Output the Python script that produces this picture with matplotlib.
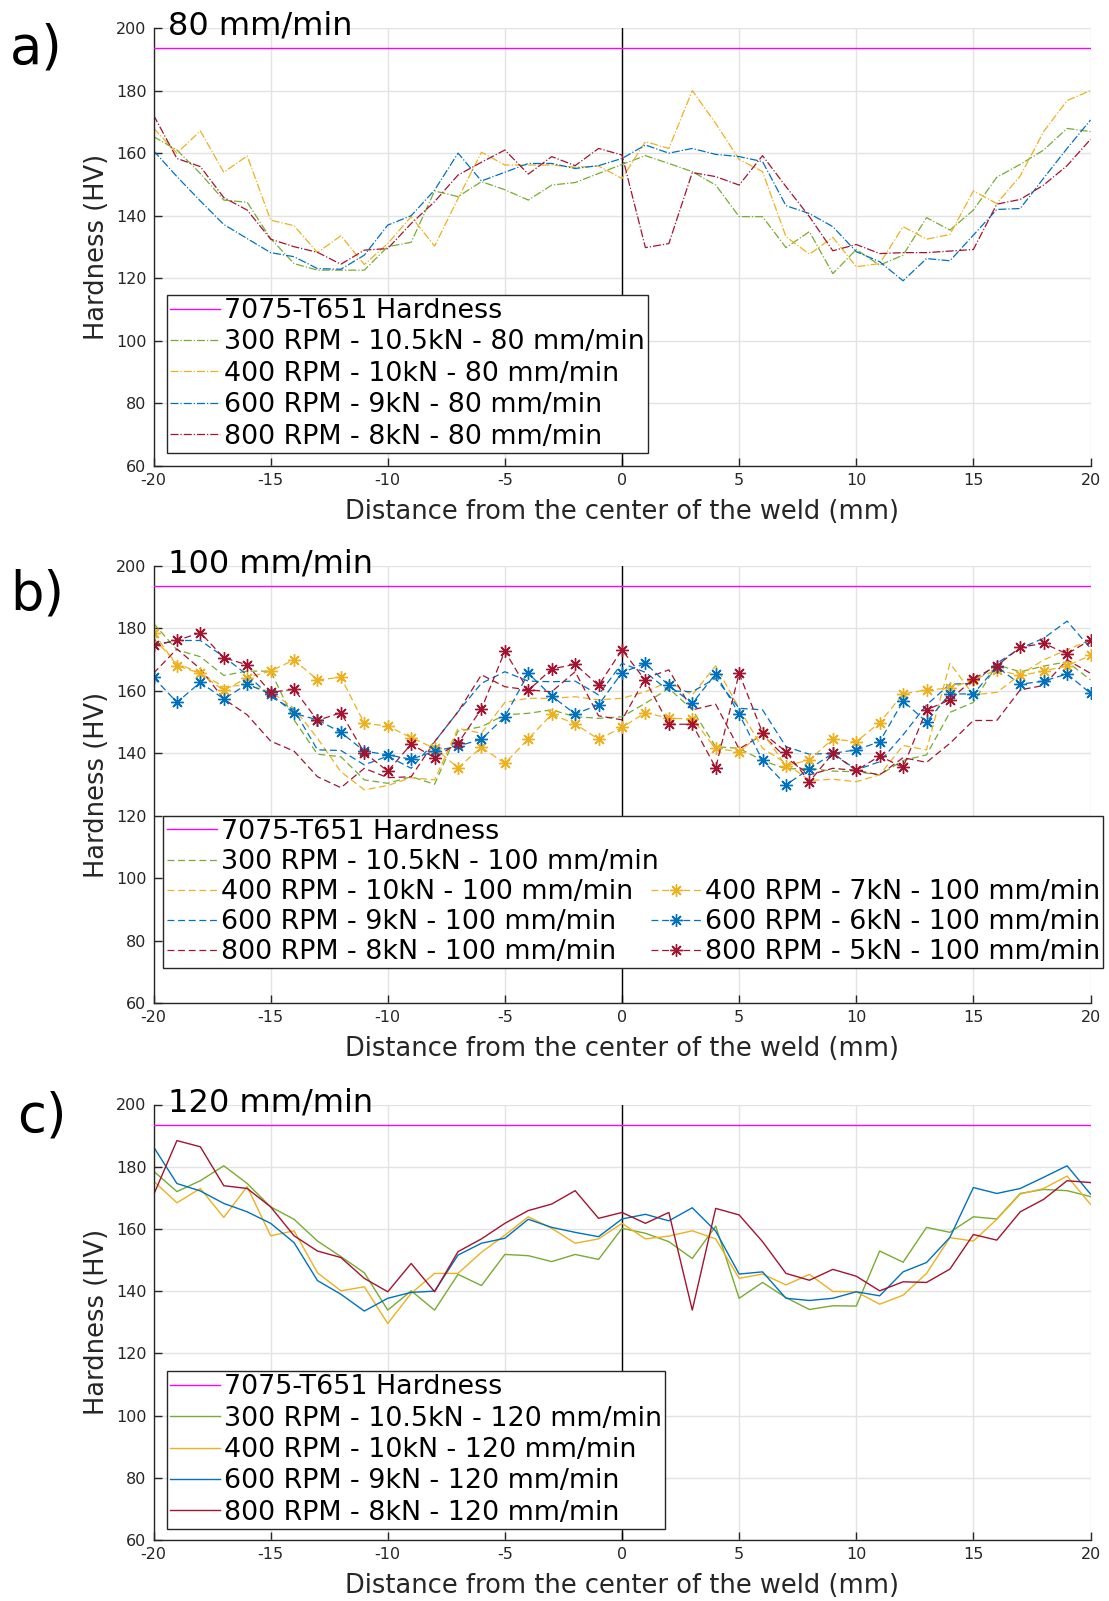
import matplotlib.pyplot as plt
from matplotlib.lines import Line2D

plt.rcParams['axes.unicode_minus'] = False

# distance from weld centre (mm)
distance = list(range(-20, 21))
base_hardness = 193.5  # 7075-T651

# --- 80 mm/min ---
hv_300_a = [165.3, 161.0, 153.5, 145.0, 144.3, 132.7, 124.7, 122.6, 122.6, 122.6, 130.1, 131.5, 147.9, 146.1,
            150.9, 148.3, 145.0, 149.8, 150.6, 153.5, 156.4,
            159.2, 156.7, 154.1, 149.8, 139.7, 139.7, 129.8, 134.9, 121.5, 129.2, 124.2, 127.4, 139.4, 135.4,
            141.8, 152.3, 156.4, 161.0, 167.9, 166.9]
hv_400_a = [168.0, 160.0, 167.1, 153.9, 159.1, 138.6, 136.8, 128.2, 133.6, 124.4, 131.1, 139.7, 130.3, 145.5,
            160.3, 156.2, 156.2, 156.2, 155.5, 155.9, 151.9,
            163.7, 161.5, 180.0, 169.5, 158.0, 154.1, 133.3, 127.7, 133.1, 123.7, 124.7, 136.5, 132.5, 134.0,
            147.9, 143.9, 152.7, 166.9, 176.8, 180.0]
hv_600_a = [160.8, 152.5, 144.7, 137.2, 132.7, 128.2, 126.9, 123.1, 122.9, 127.4, 137.0, 140.0, 148.2, 160.0,
            151.1, 153.9, 156.7, 156.7, 155.1, 156.0, 158.3,
            162.6, 160.0, 161.5, 159.6, 158.9, 157.3, 143.2, 140.7, 136.5, 128.5, 125.3, 119.2, 126.3, 125.6,
            133.8, 142.0, 142.3, 152.0, 161.5, 170.6]
hv_800_a = [172.2, 158.3, 155.7, 145.8, 141.8, 132.5, 130.1, 128.3, 124.5, 129.0, 129.5, 137.5, 144.5, 153.0,
            157.1, 161.0, 153.3, 158.9, 156.0, 161.5, 159.4,
            129.8, 131.1, 153.8, 152.5, 149.8, 159.2, 149.3, 139.7, 128.8, 130.8, 127.9, 128.2, 128.2, 128.7,
            129.2, 143.7, 145.2, 149.8, 156.0, 164.4]

# --- 100 mm/min ---
hv_300_b = [181.6, 173.1, 170.9, 164.9, 166.3, 166.3, 150.7, 139.7, 138.9, 131.5, 130.4, 132.5, 130.1, 147.1,
            148.5, 152.3, 152.8, 153.9, 151.7, 151.2, 151.7,
            156.0, 160.8, 153.9, 142.1, 141.6, 137.7, 135.0, 135.2, 134.3, 134.1, 133.1, 137.7, 139.5, 153.1,
            156.3, 168.3, 166.1, 167.9, 169.3, 163.5]
hv_400_b = [176.8, 168.8, 165.6, 161.3, 161.9, 159.7, 154.4, 144.8, 134.1, 128.3, 129.7, 132.2, 131.5, 148.0,
            146.4, 156.3, 157.6, 157.6, 158.1, 157.1, 157.6,
            159.7, 162.9, 158.7, 168.0, 154.4, 141.6, 136.8, 131.3, 131.7, 130.9, 133.1, 142.5, 141.1, 168.8,
            158.7, 159.5, 165.1, 169.9, 173.1, 176.3]
hv_600_b = [174.7, 176.1, 176.1, 170.9, 165.1, 158.1, 153.9, 141.1, 140.9, 136.3, 139.1, 135.2, 143.7, 153.3,
            162.4, 166.1, 163.1, 162.9, 163.1, 158.7, 168.8,
            165.9, 160.0, 159.7, 164.0, 154.4, 153.9, 142.1, 139.7, 140.0, 134.7, 137.3, 145.9, 155.5, 162.1,
            162.4, 168.8, 173.6, 176.8, 182.3, 173.6]
hv_800_b = [165.6, 173.4, 167.0, 157.4, 152.3, 143.9, 140.7, 132.5, 129.0, 135.2, 132.2, 132.5, 143.7, 153.3,
            165.1, 161.3, 160.3, 159.7, 166.1, 152.0, 150.7,
            164.0, 166.7, 153.9, 155.7, 141.4, 145.9, 138.6, 133.1, 135.2, 134.5, 133.1, 138.6, 137.1, 143.2,
            150.5, 150.5, 160.3, 161.7, 169.9, 165.6]
hv_400_7kn_b = [178.6, 168.0, 165.6, 160.1, 164.2, 166.3, 169.9, 163.5, 164.3, 149.6, 148.7, 145.0, 141.6, 135.4,
                141.9, 136.8, 144.6, 152.5, 149.4, 144.5, 148.3,
                153.0, 151.2, 151.0, 141.6, 140.5, 146.6, 136.0, 137.9, 144.6, 143.7, 149.8, 159.0, 160.3, 160.8,
                163.5, 166.7, 164.9, 166.3, 168.0, 171.3]
hv_600_6kn_b = [164.3, 156.3, 162.7, 157.4, 162.1, 159.0, 152.8, 150.7, 146.7, 140.7, 139.5, 138.1, 140.7, 142.3,
                144.5, 151.7, 165.6, 158.3, 152.6, 155.5, 165.8,
                168.8, 161.7, 156.0, 165.4, 152.6, 137.7, 129.9, 135.0, 140.0, 141.1, 143.7, 156.7, 150.1, 159.0,
                159.0, 167.7, 162.1, 163.1, 165.4, 159.2]
hv_800_5kn_b = [174.5, 176.1, 178.6, 170.6, 168.3, 159.5, 160.5, 150.5, 153.0, 140.2, 134.3, 142.9, 138.6, 143.2,
                154.2, 172.7, 160.1, 167.0, 168.5, 161.7, 173.1,
                163.3, 149.3, 149.3, 135.4, 165.6, 146.6, 140.5, 130.9, 140.0, 134.5, 139.1, 135.5, 153.9, 157.1,
                163.8, 168.0, 173.9, 175.2, 171.8, 176.3]

# --- 120 mm/min ---
hv_300_c = [178.6, 172.0, 175.5, 180.3, 174.6, 167.1, 163.1, 156.1, 151.1, 145.9, 133.9, 140.1, 133.9, 145.4,
            141.8, 151.8, 151.4, 149.5, 151.8, 150.2, 160.2,
            158.6, 155.9, 150.5, 160.9, 137.7, 142.8, 137.9, 134.1, 135.3, 135.2, 152.9, 149.3, 160.5, 158.9,
            163.9, 163.2, 171.4, 172.7, 172.3, 170.4]
hv_400_c = [175.4, 168.4, 173.0, 163.7, 173.6, 157.8, 159.4, 145.9, 140.1, 141.4, 129.6, 139.3, 145.7, 145.7,
            152.5, 158.0, 163.9, 160.2, 155.4, 156.8, 161.8,
            156.8, 157.7, 159.4, 156.8, 144.1, 145.5, 142.0, 145.4, 139.9, 139.8, 135.8, 138.7, 145.7, 157.2,
            156.1, 163.1, 171.2, 173.0, 177.0, 167.9]
hv_600_c = [186.4, 174.6, 172.2, 168.2, 165.5, 161.8, 155.6, 143.4, 139.0, 133.6, 137.7, 139.6, 140.0, 151.6,
            155.4, 157.0, 163.1, 160.5, 158.9, 157.5, 163.2,
            164.7, 162.6, 166.8, 159.3, 145.5, 146.2, 137.7, 137.0, 137.7, 139.8, 138.5, 146.2, 149.2, 157.3,
            173.3, 171.4, 173.0, 176.6, 180.3, 171.2]
hv_800_c = [170.9, 188.4, 186.4, 173.9, 173.0, 167.1, 157.8, 152.9, 150.8, 144.1, 139.8, 148.9, 139.8, 152.7,
            156.8, 161.8, 165.9, 168.0, 172.3, 163.4, 165.3,
            161.8, 165.3, 133.9, 166.6, 164.5, 155.9, 145.7, 143.5, 147.0, 144.8, 140.1, 143.0, 142.8, 147.1,
            158.2, 156.4, 165.5, 169.5, 175.5, 174.9]

GREEN, YELLOW, BLUE, RED = '#77AC30', '#EDB120', '#0072BD', '#A2142F'
MAGENTA = '#FF00FF'
TXT = '#262626'

fig = plt.figure(figsize=(11.09, 16.01), dpi=100)
left, width = 153.5 / 1109, 937 / 1109
ax_a = fig.add_axes([left, 1 - 466 / 1601, width, 438 / 1601])
ax_b = fig.add_axes([left, 1 - 1003.3 / 1601, width, 437.5 / 1601])
ax_c = fig.add_axes([left, 1 - 1540 / 1601, width, 435.5 / 1601])


def style_axes(ax, title):
    ax.set_xlim(-20, 20)
    ax.set_ylim(60, 200)
    ax.set_xticks(range(-20, 21, 5))
    ax.set_yticks(range(60, 201, 20))
    ax.grid(True, color='#e3e3e3', linewidth=1.0)
    ax.set_axisbelow(True)
    for s in ['top', 'right']:
        ax.spines[s].set_visible(False)
    for s in ['left', 'bottom']:
        ax.spines[s].set_color(TXT)
        ax.spines[s].set_linewidth(1.0)
    ax.tick_params(direction='in', length=6, width=1.0, colors=TXT, labelsize=11.5, pad=5)
    ax.axhline(base_hardness, color=MAGENTA, lw=1.0, label='7075-T651 Hardness', zorder=3)
    ax.axvline(0, color='black', lw=1.0, zorder=2)
    ax.set_ylabel('Hardness (HV)', fontsize=18.5, color=TXT, labelpad=4)
    ax.set_xlabel('Distance from the center of the weld (mm)', fontsize=18.5, color=TXT, labelpad=8)
    ax.text(0.016, 0.985, title, transform=ax.transAxes, fontsize=23, color='black',
            va='baseline', ha='left')


legend_kw = dict(loc='lower left', fontsize=19.4, frameon=True, fancybox=False, framealpha=1,
                 edgecolor=TXT, borderaxespad=0, borderpad=0.12, labelspacing=0.2,
                 handlelength=1.85, handletextpad=0.15)

# a) 80 mm/min
style_axes(ax_a, '80 mm/min')
ax_a.plot(distance, hv_300_a, '-.', color=GREEN, lw=0.9, label='300 RPM - 10.5kN - 80 mm/min')
ax_a.plot(distance, hv_400_a, '-.', color=YELLOW, lw=0.9, label='400 RPM - 10kN - 80 mm/min')
ax_a.plot(distance, hv_600_a, '-.', color=BLUE, lw=0.9, label='600 RPM - 9kN - 80 mm/min')
ax_a.plot(distance, hv_800_a, '-.', color=RED, lw=0.9, label='800 RPM - 8kN - 80 mm/min')
leg = ax_a.legend(bbox_to_anchor=(0.0139, 0.030), **legend_kw)
leg.get_frame().set_linewidth(1.0)
leg.set_zorder(5)

# b) 100 mm/min
style_axes(ax_b, '100 mm/min')
dash = (0, (5.5, 3))
star = (8, 2, 0)
l1 = ax_b.plot(distance, hv_300_b, linestyle=dash, color=GREEN, lw=0.9)[0]
l2 = ax_b.plot(distance, hv_400_b, linestyle=dash, color=YELLOW, lw=0.9)[0]
l3 = ax_b.plot(distance, hv_600_b, linestyle=dash, color=BLUE, lw=0.9)[0]
l4 = ax_b.plot(distance, hv_800_b, linestyle=dash, color=RED, lw=0.9)[0]
m1 = ax_b.plot(distance, hv_400_7kn_b, linestyle=dash, color=YELLOW, lw=0.9, marker=star, ms=9, mew=1.0)[0]
m2 = ax_b.plot(distance, hv_600_6kn_b, linestyle=dash, color=BLUE, lw=0.9, marker=star, ms=9, mew=1.0)[0]
m3 = ax_b.plot(distance, hv_800_5kn_b, linestyle=dash, color=RED, lw=0.9, marker=star, ms=9, mew=1.0)[0]
hard_b = ax_b.get_lines()[0]
blank = Line2D([], [], linestyle='none')
handles = [hard_b, l1, l2, l3, l4, blank, blank, m1, m2, m3]
labels = ['7075-T651 Hardness', '300 RPM - 10.5kN - 100 mm/min', '400 RPM - 10kN - 100 mm/min',
          '600 RPM - 9kN - 100 mm/min', '800 RPM - 8kN - 100 mm/min', ' ', ' ',
          '400 RPM - 7kN - 100 mm/min', '600 RPM - 6kN - 100 mm/min', '800 RPM - 5kN - 100 mm/min']
leg = ax_b.legend(handles, labels, ncol=2, columnspacing=-0.28,
                  bbox_to_anchor=(0.0106, 0.080), **{**legend_kw, 'labelspacing': 0.15})
leg.get_frame().set_linewidth(1.0)
leg.set_zorder(5)

# c) 120 mm/min
style_axes(ax_c, '120 mm/min')
ax_c.plot(distance, hv_300_c, '-', color=GREEN, lw=1.0, label='300 RPM - 10.5kN - 120 mm/min')
ax_c.plot(distance, hv_400_c, '-', color=YELLOW, lw=1.0, label='400 RPM - 10kN - 120 mm/min')
ax_c.plot(distance, hv_600_c, '-', color=BLUE, lw=1.0, label='600 RPM - 9kN - 120 mm/min')
ax_c.plot(distance, hv_800_c, '-', color=RED, lw=1.0, label='800 RPM - 8kN - 120 mm/min')
leg = ax_c.legend(bbox_to_anchor=(0.0139, 0.025), **legend_kw)
leg.get_frame().set_linewidth(1.0)
leg.set_zorder(5)

# panel letters
fig.text(10 / 1109, 1 - 63 / 1601, 'a)', fontsize=38, va='baseline')
fig.text(10 / 1109, 1 - 610 / 1601, 'b)', fontsize=38, va='baseline')
fig.text(17 / 1109, 1 - 1131 / 1601, 'c)', fontsize=38, va='baseline')

fig.savefig('out.png', dpi=100)
